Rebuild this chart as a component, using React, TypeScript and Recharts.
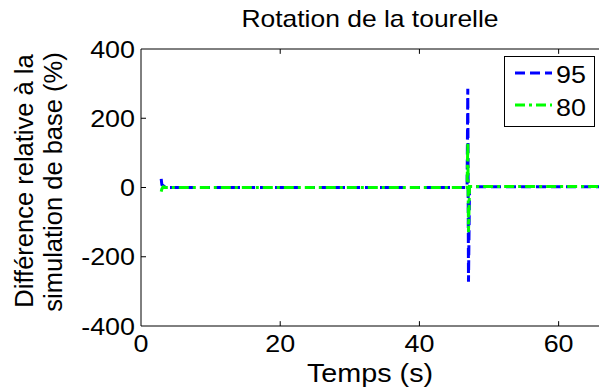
import { LineChart, Line, XAxis, YAxis, ReferenceLine, Legend } from "recharts";

// time axis (s) and relative difference (%) for each series
const timeS = [2.9, 3.0, 3.2, 3.5, 10, 20, 30, 40, 46.85, 46.95, 47.05, 47.2, 55, 65.8];
const serie95 = [25, 8, 5, 0, 0, 0, 0, 0, 0, 285, -272, 2, 2, 2];
const serie80 = [-12, -4, 2, 0, 0, 0, 0, 0, 0, 131, -129, 3, 3, 3];

const xTicks = [0, 20, 40, 60];
const yTicks = [-400, -200, 0, 200, 400];

const series = [
  { key: "s95", name: "95", color: "#0000ff", dash: "10 5" },
  { key: "s80", name: "80", color: "#00ff00", dash: "10 4 3 4" },
];

const data = timeS.map((t, i) => ({ t, s95: serie95[i], s80: serie80[i] }));

const W = 599;
const H = 391;
const PLOT_LEFT = 141;
const PLOT_TOP = 49;
const PLOT_BOTTOM = 326;
const FONT = "'Liberation Sans', Arial, Helvetica, sans-serif";

function StretchText({ x, y, size, sx = 1, anchor = "middle", rotate = 0, children }: any) {
  return (
    <text
      transform={`translate(${x},${y}) rotate(${rotate}) scale(${sx},1)`}
      textAnchor={anchor}
      fontSize={size}
      fontFamily={FONT}
      fill="#000"
    >
      {children}
    </text>
  );
}

const XTick = ({ x, payload }: any) => (
  <StretchText x={x} y={PLOT_BOTTOM + 26} size={24} sx={1.12}>
    {payload.value}
  </StretchText>
);

const YTick = ({ y, payload }: any) => (
  <StretchText x={PLOT_LEFT - 6} y={y + 8.5} size={24} sx={1.12} anchor="end">
    {payload.value}
  </StretchText>
);

function LegendBox() {
  return (
    <svg width={92} height={72} style={{ display: "block" }}>
      <rect x={0.5} y={0.5} width={90} height={70} fill="#fff" stroke="#000" strokeWidth={1} />
      {series.map((s, i) => (
        <g key={s.key}>
          <line x1={11} x2={48} y1={17 + i * 32} y2={17 + i * 32} stroke={s.color} strokeWidth={3} strokeDasharray={s.dash} />
          <StretchText x={52} y={27 + i * 33} size={24} sx={1.12} anchor="start">
            {s.name}
          </StretchText>
        </g>
      ))}
    </svg>
  );
}

export default function App() {
  const xTickLen = 0.72;
  const yTickLen = 14;
  return (
    <div style={{ position: "absolute", left: 0, top: 0, width: W, height: H, background: "#fff" }}>
      <svg width={W} height={40} style={{ position: "absolute", left: 0, top: 0 }}>
        <StretchText x={370} y={27} size={23} sx={1.15}>
          Rotation de la tourelle
        </StretchText>
      </svg>
      <LineChart
        width={W}
        height={H}
        data={data}
        margin={{ top: PLOT_TOP, right: 0, bottom: 0, left: 0 }}
        style={{ position: "absolute", left: 0, top: 0 }}
      >
        <XAxis
          dataKey="t"
          type="number"
          domain={[0, 65.8]}
          ticks={xTicks}
          allowDataOverflow
          height={H - PLOT_BOTTOM}
          tickLine={false}
          axisLine={{ stroke: "#000", strokeWidth: 1 }}
          tick={<XTick />}
          label={{
            content: () => (
              <StretchText x={370} y={382} size={25} sx={1.15}>
                Temps (s)
              </StretchText>
            ),
          }}
        />
        <YAxis
          type="number"
          domain={[-400, 400]}
          ticks={yTicks}
          width={PLOT_LEFT}
          tickLine={false}
          axisLine={{ stroke: "#000", strokeWidth: 1 }}
          tick={<YTick />}
          label={{
            content: () => (
              <g>
                <StretchText x={33} y={181} size={25.5} rotate={-90}>
                  Différence relative à la
                </StretchText>
                <StretchText x={62} y={182} size={25.5} rotate={-90}>
                  simulation de base (%)
                </StretchText>
              </g>
            ),
          }}
        />
        <ReferenceLine y={400} stroke="#000" strokeWidth={1} />
        {xTicks.slice(1).map((t) => (
          <ReferenceLine key={`b${t}`} segment={[{ x: t, y: -400 }, { x: t, y: -400 + yTickLen }]} stroke="#000" />
        ))}
        {xTicks.slice(1).map((t) => (
          <ReferenceLine key={`t${t}`} segment={[{ x: t, y: 400 }, { x: t, y: 400 - yTickLen }]} stroke="#000" />
        ))}
        {yTicks.slice(1, -1).map((v) => (
          <ReferenceLine key={`l${v}`} segment={[{ x: 0, y: v }, { x: xTickLen, y: v }]} stroke="#000" />
        ))}
        {series.map((s) => (
          <Line
            key={s.key}
            dataKey={s.key}
            name={s.name}
            type="linear"
            stroke={s.color}
            strokeWidth={3}
            strokeDasharray={s.dash}
            dot={false}
            activeDot={false}
            isAnimationActive={false}
          />
        ))}
        <Legend
          layout="vertical"
          align="center"
          verticalAlign="middle"
          content={() => <LegendBox />}
          wrapperStyle={{ position: "absolute", left: 504, top: 56, width: 92, height: 72 }}
        />
      </LineChart>
    </div>
  );
}
